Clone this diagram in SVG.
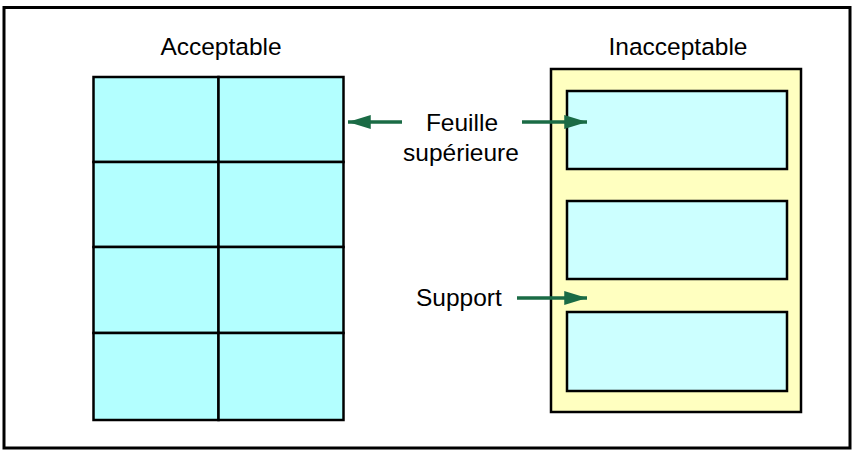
<svg xmlns="http://www.w3.org/2000/svg" width="853" height="453" viewBox="0 0 853 453">
<defs>
<style>
.t{font-family:"Liberation Sans",Arial,sans-serif;font-size:24.5px;fill:#000}
.cell{fill:#b3ffff;stroke:#000;stroke-width:2.5}
.lab{fill:#ccffff;stroke:#000;stroke-width:2.5}
.arr{stroke:#1a6b45;stroke-width:3.5;fill:none;marker-end:url(#ah)}
</style>
<marker id="ah" markerWidth="6.5" markerHeight="4" refX="6.5" refY="2" orient="auto" markerUnits="strokeWidth">
<path d="M0,0 L6.5,2 L0,4 Z" fill="#1a6b45"/>
</marker>
</defs>
<rect x="4" y="7.5" width="846" height="440.5" fill="#fff" stroke="#000" stroke-width="3"/>
<g id="acceptable">
<text class="t" x="221" y="55" text-anchor="middle">Acceptable</text>
<rect class="cell" x="93.5" y="77" width="125" height="85"/>
<rect class="cell" x="218.5" y="77" width="125" height="85"/>
<rect class="cell" x="93.5" y="162" width="125" height="85"/>
<rect class="cell" x="218.5" y="162" width="125" height="85"/>
<rect class="cell" x="93.5" y="247" width="125" height="86"/>
<rect class="cell" x="218.5" y="247" width="125" height="86"/>
<rect class="cell" x="93.5" y="333" width="125" height="87"/>
<rect class="cell" x="218.5" y="333" width="125" height="87"/>
</g>
<g id="inacceptable">
<text class="t" x="678" y="55" text-anchor="middle">Inacceptable</text>
<rect x="551" y="69" width="250" height="343" fill="#ffffc0" stroke="#000" stroke-width="2.5"/>
<rect class="lab" x="567" y="91" width="220" height="78"/>
<rect class="lab" x="567" y="201" width="220" height="78"/>
<rect class="lab" x="567" y="312" width="220" height="79"/>
</g>
<g id="feuille">
<text class="t" x="462" y="131" text-anchor="middle">Feuille</text>
<text class="t" x="461" y="161" text-anchor="middle">supérieure</text>
</g>
<g id="support">
<text class="t" x="416" y="306">Support</text>
</g>
<g id="connectors">
<line class="arr" x1="402" y1="122" x2="348" y2="122"/>
<line class="arr" x1="522" y1="122" x2="587" y2="122"/>
<line class="arr" x1="517" y1="298" x2="587" y2="298"/>
</g>
</svg>
